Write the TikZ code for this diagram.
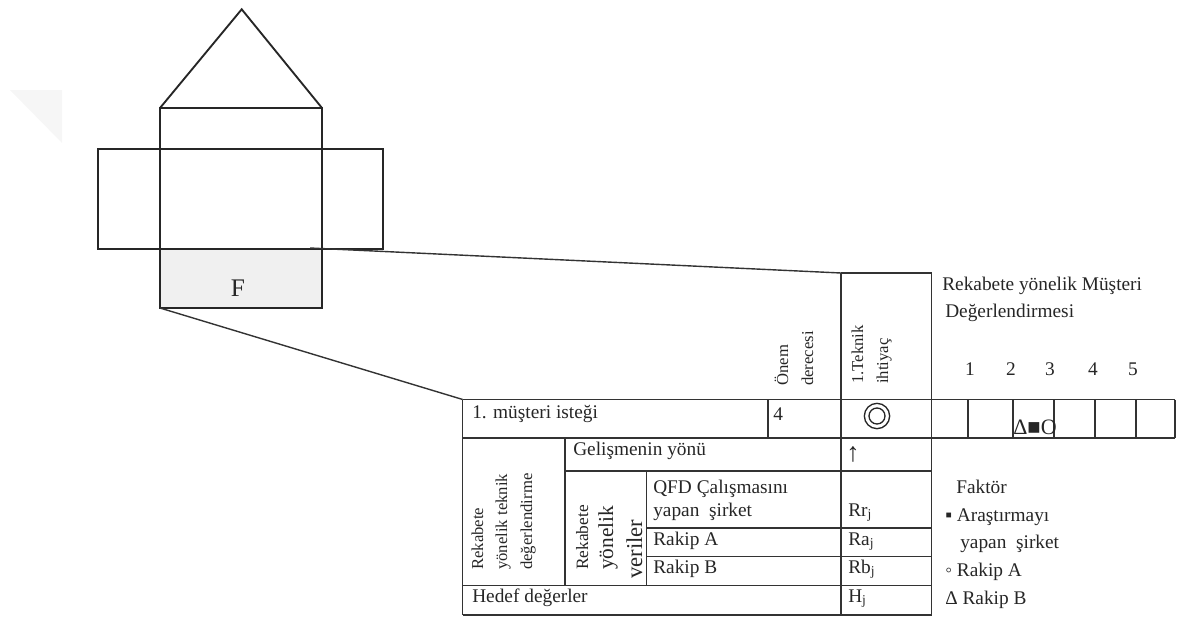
\documentclass[tikz,border=0pt]{standalone}
\usepackage{fontspec}
\setmainfont{Liberation Serif}
\begin{document}
\begin{tikzpicture}[x=0.75pt,y=-0.75pt]
\tikzset{
  ln/.style={line width=1.05pt, draw=black!80},
  hs/.style={line width=1.4pt, draw=black!85},
  txt/.style={inner sep=0pt, anchor=mid west, text=black!85, font=\fontsize{14.5}{17}\selectfont},
  ctxt/.style={inner sep=0pt, text=black!85, font=\fontsize{14.5}{17}\selectfont},
  rtxt/.style={inner sep=0pt, anchor=mid west, rotate=90, text=black!85, font=\fontsize{12.5}{14}\selectfont},
}
\useasboundingbox (0,0) rectangle (1186,619);
% watermark
\fill[gray!7] (10,90) -- (62,90) -- (62,143) -- cycle;
% house
\fill[gray!12] (160,249) rectangle (322,308);
\draw[hs] (98,149) rectangle (383,249);
\draw[hs] (160,108) rectangle (322,308);
\draw[hs] (160,108) -- (241.7,9.3) -- (322,108);
\node[inner sep=0pt, text=black!85, font=\fontsize{19}{22}\selectfont] (F) at (238,288) {F};
\coordinate (Ftop) at (310,248);
\coordinate (Fbot) at (160,308);
% connectors and table lines
\coordinate (rowTL) at (462.7,399.5);
\coordinate (tekTL) at (841,273);
\draw[ln] (Ftop) -- (tekTL);
\draw[ln] (Fbot) -- (rowTL);
% verticals
\draw[ln] (462.7,399.5) -- (462.7,615);
\draw[ln] (768,399.5) -- (768,438);
\draw[ln] (841,273) -- (841,615);
\draw[ln] (931.7,273) -- (931.7,615);
\draw[ln] (841,273) -- (931.7,273);
\draw[ln] (565,438) -- (565,585.5);
\draw[ln] (646.7,471) -- (646.7,585.5);
% horizontals
\draw[ln] (462.7,399.5) -- (1175,399.5);
\draw[ln] (462.7,438) -- (1175,438);
\draw[ln] (565,471) -- (931.7,471);
\draw[ln] (646.7,528) -- (931.7,528);
\draw[ln] (646.7,556.5) -- (931.7,556.5);
\draw[ln] (462.7,585.5) -- (931.7,585.5);
\draw[ln] (462.7,615) -- (931.7,615);
% rating cells
\foreach \xx in {968,1013,1054,1095,1136,1175} \draw[ln] (\xx,399.5) -- (\xx,438);
% double circle
\node[circle, draw=black!85, line width=1pt, minimum size=19pt, inner sep=0pt] (dc) at (877,416) {};
\node[circle, draw=black!85, line width=1pt, minimum size=12pt, inner sep=0pt] (dcin) at (877,416) {};
% texts
\node[txt] (t1) at (472,415) {1. müşteri isteği};
\node[txt] (t4) at (773,417) {4};
\node[txt] (tgel) at (573,452) {Gelişmenin yönü};
\node[ctxt, font=\fontsize{20}{22}\selectfont] (tarr) at (853,454) {↑};
\node[txt] (tqfd) at (653,490) {QFD Çalışmasını};
\node[txt] (tyap) at (653,513) {yapan\ \ şirket};
\node[txt] (tra) at (653,542) {Rakip A};
\node[txt] (trb) at (653,570) {Rakip B};
\node[txt] (thed) at (472,599) {Hedef değerler};
\node[txt] (trr) at (848,513) {Rr\textsubscript{j}};
\node[txt] (tras) at (848,542) {Ra\textsubscript{j}};
\node[txt] (trbs) at (848,570) {Rb\textsubscript{j}};
\node[txt] (ths) at (848,599) {H\textsubscript{j}};
% rotated texts
\node[rtxt] (onem) at (785,386) {Önem};
\node[rtxt] (der) at (810,386) {derecesi};
\node[rtxt] (tek) at (860,384) {1.Teknik};
\node[rtxt] (iht) at (885,384) {ihtiyaç};
\node[rtxt] (rek1) at (480,570) {Rekabete};
\node[rtxt] (rek2) at (504,570) {yönelik teknik};
\node[rtxt] (rek3) at (529,570) {değerlendirme};
\node[rtxt, font=\fontsize{13}{15}\selectfont] (rv1) at (585,570) {Rekabete};
\node[rtxt, font=\fontsize{16}{18}\selectfont] (rv2) at (610,570) {yönelik};
\node[rtxt, font=\fontsize{17}{19}\selectfont] (rv3) at (639,579) {veriler};
% right side
\node[txt] (mh1) at (942,287) {Rekabete yönelik Müşteri};
\node[txt] (mh2) at (945,314.5) {Değerlendirmesi};
\node[ctxt, anchor=base] (n1) at (970,375) {1};
\node[ctxt, anchor=base] (n2) at (1011,375) {2};
\node[ctxt, anchor=base] (n3) at (1050,375) {3};
\node[ctxt, anchor=base] (n4) at (1093,375) {4};
\node[ctxt, anchor=base] (n5) at (1133,375) {5};
\node[ctxt, font=\fontsize{16.5}{18}\selectfont] (sym) at (1035,427) {Δ■O};
\node[txt] (fk) at (956,490.5) {Faktör};
\node[txt] (lg1) at (945,518.5) {▪ Araştırmayı};
\node[txt] (lg2) at (960,545.5) {yapan\ \ şirket};
\node[txt] (lg3) at (945,573.5) {◦ Rakip A};
\node[txt] (lg4) at (945,601) {Δ Rakip B};
\end{tikzpicture}
\end{document}
